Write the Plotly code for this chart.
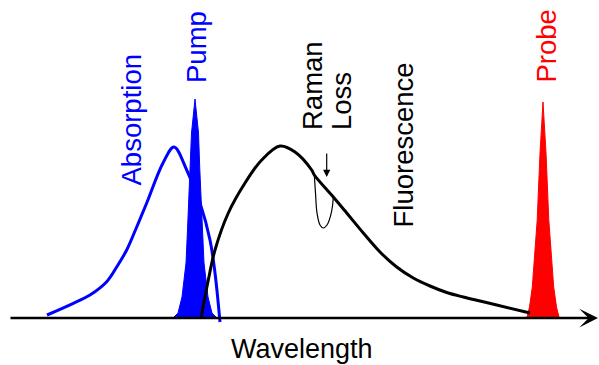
import plotly.graph_objects as go

# Spectral curves (wavelength in arbitrary units, intensity in arbitrary units)
absorption_x = [47, 73.3, 90, 106.7, 116.7, 126.7, 136.7, 146.7, 163, 174, 186.7, 200, 210, 215, 220]
absorption_y = [3, 14.7, 23, 36.3, 51, 68, 91, 115, 155, 171, 148, 115, 78, 45, -4]

pump_x = [174, 178, 182, 186, 187.5, 188.8, 190.3, 191.5, 195,
          198.5, 199.7, 201.2, 202.5, 204, 208, 212, 216]
pump_y = [1, 5, 21, 55, 88, 121, 151, 185, 219,
          185, 151, 121, 88, 55, 21, 5, 1]

fluor_x = [201, 208.3, 215, 228.3, 245, 261.7, 280, 295, 311.7, 314.3,
           333.3, 346.7, 363.3, 380, 396.7, 413.3, 430, 446.7, 463.3, 480, 496.7, 530]
fluor_y = [-0.3, 38, 68, 105, 135, 158, 172, 166, 148, 143,
           121, 105, 85, 66, 51, 40, 32, 25.5, 21, 17, 13, 5]

raman_x = [314.3, 315.5, 317, 320, 323.3, 327, 330.5, 332.5, 333.3]
raman_y = [143, 125, 105, 93, 90, 93, 102, 112, 121]

probe_x = [527, 529.5, 532.3, 537.2, 540, 543, 546, 548.8, 553.7, 556.5, 559]
probe_y = [1, 11, 31, 98, 165, 216, 165, 98, 31, 11, 1]

BLUE = "#0000ff"
RED = "#ff0000"
FONT = "Liberation Sans, Arial, sans-serif"
FONT_SIZE = 27.5

fig = go.Figure()

fig.add_trace(go.Scatter(x=pump_x, y=pump_y, mode="lines", fill="tozeroy",
                         fillcolor=BLUE, line=dict(color=BLUE, width=1)))
fig.add_trace(go.Scatter(x=probe_x, y=probe_y, mode="lines", fill="tozeroy",
                         fillcolor=RED, line=dict(color=RED, width=1)))
fig.add_trace(go.Scatter(x=absorption_x, y=absorption_y, mode="lines",
                         line=dict(color=BLUE, width=3, shape="spline")))
fig.add_trace(go.Scatter(x=raman_x, y=raman_y, mode="lines",
                         line=dict(color="black", width=1.2, shape="spline")))
fig.add_trace(go.Scatter(x=fluor_x, y=fluor_y, mode="lines",
                         line=dict(color="black", width=3, shape="spline")))

# Wavelength axis drawn as an arrow
fig.add_annotation(x=598, y=0, ax=9, ay=0, xref="x", yref="y", axref="x", ayref="y",
                   text="", showarrow=True, arrowhead=3, arrowsize=1.25,
                   arrowwidth=2.5, arrowcolor="black", standoff=0)
# Raman loss marker
fig.add_annotation(x=326.7, y=141, ax=326.7, ay=166, xref="x", yref="y",
                   axref="x", ayref="y", text="", showarrow=True, arrowhead=2,
                   arrowsize=1.2, arrowwidth=1.2, arrowcolor="black", standoff=0)

labels = [
    ("Absorption", 131, 130, BLUE),
    ("Pump", 196, 233, BLUE),
    ("Raman", 312.5, 186, "black"),
    ("Loss", 341, 186, "black"),
    ("Fluorescence", 403, 88, "black"),
    ("Probe", 546, 233, RED),
]
for text, lx, ly, col in labels:
    fig.add_annotation(x=lx, y=ly, text=text, showarrow=False, textangle=-90,
                       xanchor="center", yanchor="bottom",
                       font=dict(family=FONT, size=FONT_SIZE, color=col))

fig.add_annotation(x=302, y=-31, text="Wavelength", showarrow=False,
                   xanchor="center", yanchor="middle",
                   font=dict(family=FONT, size=27, color="black"))

fig.update_layout(
    width=599, height=365,
    margin=dict(l=0, r=0, t=0, b=0),
    paper_bgcolor="white", plot_bgcolor="white",
    showlegend=False,
    xaxis=dict(range=[0, 599], visible=False, fixedrange=True),
    yaxis=dict(range=[-47, 318], visible=False, fixedrange=True),
)

fig.write_html("out.html")
